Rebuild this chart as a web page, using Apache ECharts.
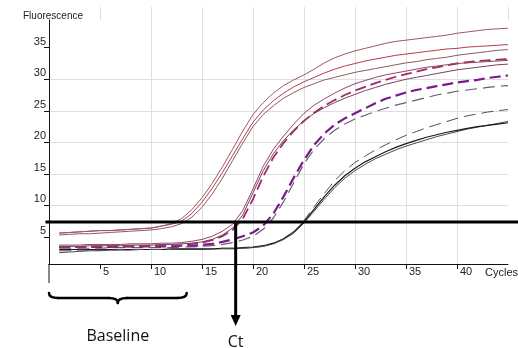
<!DOCTYPE html>
<html><head><meta charset="utf-8">
<script src="https://cdn.jsdelivr.net/npm/echarts@6/dist/echarts.min.js"></script>
<style>html,body{margin:0;padding:0;background:#fff}#c{width:518px;height:348px}</style>
</head><body><div id="c"></div>
<script>
const cycles = [1,2,3,4,5,6,7,8,9,10,11,12,13,14,15,16,17,18,19,20,21,22,23,24,25,26,27,28,29,30,31,32,33,34,35,36,37,38,39,40,41,42,43,44,45];

const A1 = [5.6,5.7,5.8,5.9,6.0,6.0,6.1,6.2,6.3,6.4,6.7,7.1,7.9,9.3,11.2,13.5,16.1,18.9,21.8,24.4,26.3,27.8,29.0,29.9,30.7,31.6,32.6,33.4,34.0,34.5,34.9,35.3,35.7,36.0,36.2,36.4,36.6,36.8,37.0,37.3,37.5,37.7,37.9,38.0,38.1];
const A2 = [5.6,5.7,5.8,5.9,6.0,6.0,6.1,6.2,6.3,6.4,6.7,7.0,7.5,8.7,10.5,12.7,15.2,17.9,20.6,23.2,25.1,26.6,27.8,28.8,29.6,30.3,31.0,31.6,32.1,32.5,32.9,33.2,33.5,33.8,34.0,34.2,34.4,34.6,34.8,34.9,35.1,35.2,35.3,35.4,35.5];
const A3 = [5.3,5.4,5.5,5.5,5.6,5.7,5.8,5.9,6.0,6.1,6.3,6.6,7.1,8.1,9.7,11.8,14.3,17.1,19.9,22.5,24.4,25.8,27.0,27.9,28.7,29.3,29.9,30.3,30.7,31.1,31.4,31.7,32.0,32.3,32.6,32.8,33.1,33.3,33.5,33.8,34.0,34.2,34.4,34.6,34.7];
const B1 = [3.7,3.7,3.7,3.8,3.8,3.8,3.8,3.9,3.9,3.9,4.0,4.0,4.1,4.3,4.6,5.1,5.9,7.0,9.2,12.6,16.2,18.9,21.0,22.9,24.6,25.9,26.9,27.8,28.6,29.3,29.8,30.3,30.7,31.0,31.3,31.6,31.9,32.1,32.3,32.5,32.6,32.7,32.8,32.9,33.0];
const B2 = [3.5,3.5,3.5,3.6,3.6,3.6,3.6,3.7,3.7,3.7,3.8,3.8,3.9,4.0,4.2,4.6,5.3,6.4,8.5,12.0,15.5,18.2,20.3,22.0,23.4,24.6,25.5,26.3,27.0,27.6,28.2,28.7,29.2,29.6,30.0,30.3,30.6,30.9,31.2,31.5,31.7,31.9,32.1,32.3,32.4];
const B3 = [3.4,3.4,3.4,3.4,3.5,3.5,3.5,3.5,3.5,3.6,3.6,3.6,3.7,3.9,4.1,4.5,5.1,6.1,7.9,11.0,14.6,17.6,19.9,21.8,23.4,24.7,25.8,26.7,27.5,28.2,28.8,29.4,29.9,30.4,30.8,31.2,31.6,31.9,32.2,32.5,32.7,32.9,33.0,33.1,33.2];
const C1 = [3.4,3.4,3.4,3.4,3.4,3.4,3.5,3.5,3.5,3.5,3.5,3.5,3.6,3.6,3.7,3.9,4.2,4.6,5.1,5.7,6.8,8.7,11.4,14.4,17.2,19.6,21.4,22.8,23.8,24.6,25.4,26.2,26.9,27.4,27.9,28.3,28.6,28.9,29.2,29.5,29.7,29.9,30.2,30.4,30.6];
const C2 = [3.2,3.2,3.2,3.2,3.2,3.3,3.3,3.3,3.3,3.3,3.3,3.3,3.4,3.4,3.5,3.6,3.8,4.1,4.5,5.1,6.2,8.0,10.6,13.6,16.6,18.9,20.6,21.9,22.9,23.7,24.3,24.9,25.4,25.9,26.3,26.7,27.1,27.5,27.8,28.1,28.3,28.5,28.7,28.9,29.0];
const D1 = [3.0,3.0,3.0,3.0,3.0,3.0,3.0,3.0,3.0,3.0,3.0,3.1,3.1,3.1,3.1,3.1,3.2,3.2,3.3,3.4,3.6,4.0,4.7,5.8,7.4,9.4,11.4,13.2,14.7,15.9,16.9,17.7,18.5,19.2,19.8,20.3,20.8,21.2,21.6,21.9,22.2,22.5,22.7,22.9,23.1];
const D2 = [2.5,2.6,2.7,2.8,2.8,2.9,2.9,2.9,3.0,3.0,3.0,3.0,3.0,3.0,3.0,3.1,3.1,3.1,3.2,3.3,3.5,3.9,4.6,5.6,7.2,9.1,11.0,12.8,14.3,15.5,16.5,17.4,18.1,18.8,19.4,19.9,20.4,20.9,21.3,21.7,22.1,22.4,22.7,23.0,23.3];
const D3 = [2.8,2.8,2.9,2.9,2.9,2.9,3.0,3.0,3.0,3.0,3.0,3.0,3.1,3.1,3.1,3.1,3.2,3.2,3.2,3.3,3.5,3.9,4.6,5.8,7.6,9.8,11.9,13.9,15.5,16.8,17.8,18.8,19.6,20.4,21.1,21.7,22.3,22.8,23.3,23.8,24.2,24.5,24.8,25.0,25.2];

const yTicks = [5,10,15,20,25,30,35];
const xTicks = [5,10,15,20,25,30,35,40];
const yMin = 0.7, yMax = 39.4;
const threshold = 7.37;
const ctCycle = 18.3;
const baselineRange = [0, 13.5];

function pairs(v){ return cycles.map((c,i)=>[c, v[i]]); }

const defs = [
  {d:D2, color:'#4a4a4a', dash:'solid', w:1},
  {d:D1, color:'#1a1a1a', dash:'solid', w:1.2},
  {d:D3, color:'#555058', dash:[12,6], w:1},
  {d:C2, color:'#6a5a78', dash:[12,6], w:1.2},
  {d:C1, color:'#7a1a8a', dash:[11,5], w:2.2},
  {d:B3, color:'#a02a6a', dash:[11,5], w:1.8},
  {d:B2, color:'#7a4060', dash:'solid', w:1},
  {d:B1, color:'#8c4a5a', dash:'solid', w:1},
  {d:A3, color:'#8a5a66', dash:'solid', w:1},
  {d:A2, color:'#b83a48', dash:'solid', w:1},
  {d:A1, color:'#9a5866', dash:'solid', w:1}
];

const chart = echarts.init(document.getElementById('c'), null, {renderer:'canvas'});
const gridColor = '#dedede';
const lab = {fontFamily:'Liberation Sans', fontSize:11, color:'#222'};
chart.setOption({
  animation:false,
  title:{text:'Fluorescence', left:18, top:6, textStyle:{fontFamily:'Liberation Sans', fontSize:10, fontWeight:'normal', color:'#222'}},
  grid:[
    {left:49, top:20, width:459, height:244, containLabel:false, outerBoundsMode:'none'},
    {left:49, top:7, width:459, height:13, containLabel:false, outerBoundsMode:'none'}
  ],
  xAxis:[
    {type:'value', gridIndex:0, min:0, max:45, interval:5,
     name:'Cycles', nameLocation:'end', nameGap:-23,
     nameTextStyle:Object.assign({}, lab, {verticalAlign:'top', align:'left', padding:[3,0,0,0]}),
     axisLine:{show:true, onZero:false, lineStyle:{color:'#111', width:1}},
     axisTick:{show:true, length:5, customValues:xTicks, lineStyle:{color:'#111'}},
     axisLabel:Object.assign({}, lab, {customValues:xTicks, align:'left', padding:[0,0,0,3], margin:2}),
     splitLine:{show:true, showMinLine:false, lineStyle:{color:gridColor, width:1}}},
    {type:'value', gridIndex:1, min:0, max:45, interval:5,
     axisLine:{show:false}, axisTick:{show:false}, axisLabel:{show:false},
     splitLine:{show:true, showMinLine:false, lineStyle:{color:gridColor, width:1}}}
  ],
  yAxis:[
    {type:'value', gridIndex:0, min:yMin, max:yMax, splitNumber:8, minInterval:5, maxInterval:5,
     axisLine:{show:true, onZero:false, lineStyle:{color:'#111', width:1}},
     axisTick:{show:true, length:5, customValues:yTicks, lineStyle:{color:'#111'}},
     axisLabel:Object.assign({}, lab, {customValues:yTicks, verticalAlign:'bottom', lineHeight:12, margin:3}),
     splitLine:{show:true, showMinLine:false, showMaxLine:false, lineStyle:{color:gridColor, width:1}}},
    {type:'value', gridIndex:1, min:0, max:1, show:false, splitLine:{show:false}}
  ],
  series: defs.map(s=>({
    type:'line', xAxisIndex:0, yAxisIndex:0, data:pairs(s.d), showSymbol:false, symbol:'none',
    smooth:false, silent:true,
    lineStyle:{color:s.color, width:s.w, type:s.dash}
  }))
});

const P = (x,y)=>chart.convertToPixel({gridIndex:0},[x,y]);
const origin = P(0, yMin);
const axisX = origin[0], axisY = origin[1];
const ty = P(0, threshold)[1];
const tx0 = P(-0.35, threshold)[0];
const tx1 = P(46, threshold)[0];
const cx = P(ctCycle, threshold)[0];
const bL = P(baselineRange[0], yMin)[0];
const bR = P(baselineRange[1], yMin)[0];
const bC = (bL + bR) / 2;
const bT = axisY + 29, bM = axisY + 34, bB = axisY + 39;
const arrowTip = axisY + 62, arrowBase = axisY + 51;
const braceStyle = {stroke:'#000', lineWidth:2.5, fill:null, lineCap:'round'};
function bez(x1,y1,cpx,cpy,x2,y2){ return {type:'bezierCurve', silent:true, z:100, shape:{x1:x1,y1:y1,x2:x2,y2:y2,cpx1:cpx,cpy1:cpy}, style:braceStyle}; }
function seg(x1,y1,x2,y2){ return {type:'line', silent:true, z:100, shape:{x1:x1,y1:y1,x2:x2,y2:y2}, style:braceStyle}; }

chart.setOption({
  graphic:[
    {type:'line', silent:true, shape:{x1:axisX, y1:axisY, x2:axisX, y2:axisY+19}, style:{stroke:'#111', lineWidth:1}},
    {type:'line', silent:true, z:100, shape:{x1:tx0, y1:ty, x2:tx1, y2:ty}, style:{stroke:'#000', lineWidth:3}},
    {type:'line', silent:true, z:100, shape:{x1:cx, y1:ty, x2:cx, y2:arrowBase+1}, style:{stroke:'#000', lineWidth:3}},
    {type:'polygon', silent:true, z:100, shape:{points:[[cx-5,arrowBase],[cx+5,arrowBase],[cx,arrowTip]]}, style:{fill:'#000'}},
    bez(bL,bT, bL,bM, bL+9,bM),
    seg(bL+9,bM, bC-9,bM),
    bez(bC-9,bM, bC,bM, bC,bB),
    bez(bC,bB, bC,bM, bC+9,bM),
    seg(bC+9,bM, bR-9,bM),
    bez(bR-9,bM, bR,bM, bR,bT),
    {type:'text', silent:true, z:100, x:bC, y:axisY+72, style:{text:'Baseline', font:'16px "Open Sans"', fill:'#111', align:'center', verticalAlign:'middle', textAlign:'center', textVerticalAlign:'middle'}},
    {type:'text', silent:true, z:100, x:cx, y:axisY+78, style:{text:'Ct', font:'16px "Open Sans"', fill:'#111', align:'center', verticalAlign:'middle', textAlign:'center', textVerticalAlign:'middle'}}
  ]
});
</script></body></html>
